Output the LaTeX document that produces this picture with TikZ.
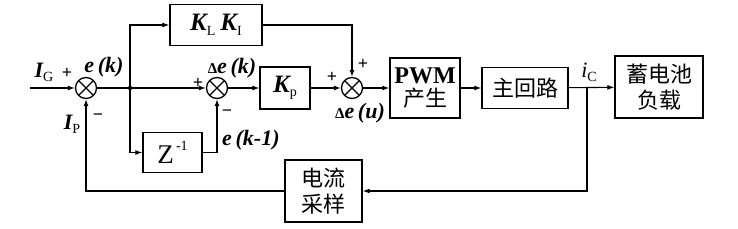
\documentclass[tikz,border=0pt]{standalone}
\usepackage{fontspec}
\setmainfont{Liberation Serif}
\newfontfamily\cjk{Noto Sans CJK SC}
\usetikzlibrary{arrows.meta,calc}
\newcommand\sbs[1]{\raisebox{-0.4ex}{\fontsize{14}{14}\selectfont\normalfont #1}}
\begin{document}
\begin{tikzpicture}[x=1pt,y=-1pt,
  blk/.style={draw, line width=1.3pt, inner sep=0pt, align=center,
    font=\cjk\fontsize{22}{26}\selectfont},
  sumnode/.style={circle, draw, line width=1.3pt, minimum size=21pt, inner sep=0pt,
    path picture={\draw[line width=1.2pt] (path picture bounding box.north west)--(path picture bounding box.south east)
      (path picture bounding box.north east)--(path picture bounding box.south west);}},
  conn/.style={line width=1.1pt, -{Latex[length=7pt,width=5pt]}},
  lbl/.style={font=\fontsize{22}{22}\selectfont\bfseries\itshape, inner sep=0pt},
  sgn/.style={font=\fontsize{18}{18}\selectfont\bfseries, inner sep=0pt}]
\useasboundingbox (0,0) rectangle (738,229);
% summing junctions
\node[sumnode] (s1) at (86,88) {};
\node[sumnode] (s2) at (217,88) {};
\node[sumnode] (s3) at (352,88) {};
% blocks
\node[blk, minimum width=92pt, minimum height=41pt, font=\fontsize{25}{25}\selectfont] (kl) at (216,25)
  {{\bfseries\itshape K}\sbs{L}\hspace{5pt}{\bfseries\itshape K}\sbs{I}};
\node[blk, minimum width=50pt, minimum height=42pt, font=\fontsize{25}{25}\selectfont] (kp) at (285,88)
  {{\bfseries\itshape K}\sbs{p}};
\node[blk, minimum width=59pt, minimum height=40pt, font=\fontsize{27}{27}\selectfont] (z) at (172.5,152.5)
  {Z\raisebox{1.0ex}{\fontsize{14}{14}\selectfont\,-1}};
\node[blk, minimum width=70pt, minimum height=60pt] (pwm) at (425,88)
  {{\rmfamily\fontsize{24}{24}\selectfont\bfseries PWM}\\[-3pt]产生};
\node[blk, minimum width=86pt, minimum height=41pt] (main) at (525,88) {主回路};
\node[blk, minimum width=88pt, minimum height=62pt] (bat) at (659,87) {蓄电池\\负载};
\node[blk, minimum width=77pt, minimum height=62pt] (smp) at (323.5,191) {电流\\采样};
% coordinates
\coordinate (in) at (30,88);
\coordinate (j1) at (130,88);
\coordinate (j2) at (587,88);
% connectors
\draw[conn] (in) -- (s1);
\draw[conn] (s1) -- (s2);
\fill (j1) circle (2.2pt);
\draw[conn] (j1) |- (kl.west);
\draw[conn] (j1) |- (z.west);
\draw[conn] (z.east) -| (s2.south);
\draw[conn] (s2) -- (kp);
\draw[conn] (kp) -- (s3);
\draw[conn] (kl.east) -| (s3.north);
\draw[conn] (s3) -- (pwm);
\draw[conn] (pwm) -- (main);
\draw[conn] (main) -- (bat);
\draw[conn] (j2) |- (smp.east);
\draw[conn] (smp.west) -| (s1.south);
% labels
\node[lbl] (lIG) at (44,72) {I\sbs{G}};
\node[sgn] (p1) at (67,73) {+};
\node[lbl] (lek) at (104,67) {e\,(k)};
\node[lbl] (lIp) at (72,124) {I\sbs{P}};
\node[sgn] (m1) at (98,117) {\textminus};
\node[lbl] (ldek) at (232,68) {{\normalfont\bfseries\fontsize{15}{15}\selectfont Δ}e\,(k)};
\node[sgn] (p2) at (198,83) {+};
\node[sgn] (m2) at (227,113) {\textminus};
\node[lbl, anchor=west] (lek1) at (222,140) {e\,(k-1)};
\node[sgn] (p3) at (332,77) {+};
\node[sgn] (p4) at (363,64) {+};
\node[lbl] (ldeu) at (360,113) {{\normalfont\bfseries\fontsize{15}{15}\selectfont Δ}e\,(u)};
\node[lbl, font=\fontsize{22}{22}\selectfont\itshape] (lic) at (589,72) {i\sbs{C}};
\end{tikzpicture}
\end{document}
